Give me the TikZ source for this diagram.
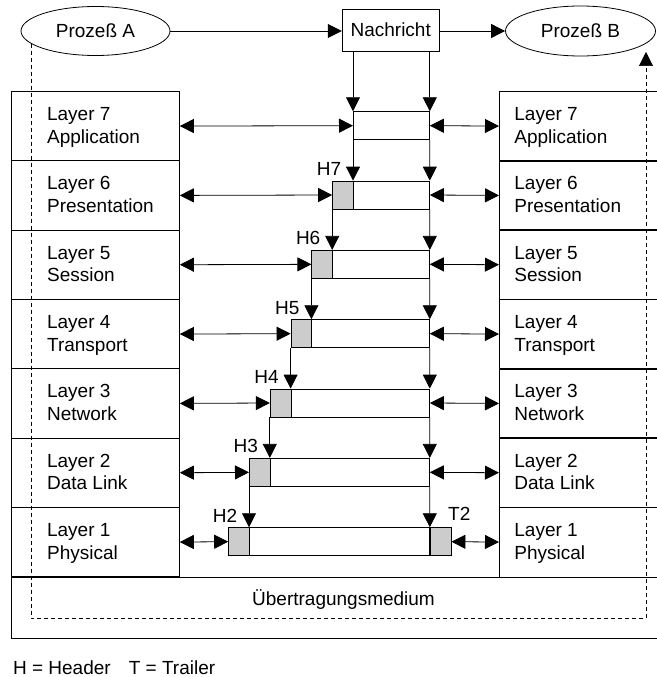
\documentclass[tikz,border=0pt]{standalone}
\usepackage{fontspec}
\setmainfont{Liberation Sans}
\usetikzlibrary{arrows.meta,shapes.geometric}
\begin{document}
\begin{tikzpicture}[x=1pt,y=-1pt,line width=0.8pt,
  >={Triangle[length=14pt,width=14pt]},
  every node/.style={font=\fontsize{19}{22.6}\selectfont},
  proc/.style={draw,ellipse,inner sep=0pt},
  rowbox/.style={anchor=north west,inner sep=0pt,minimum width=168pt,minimum height=69.333pt},
  pkt/.style={draw,anchor=west,inner sep=0pt,minimum height=28pt},
  hdr/.style={draw,fill=gray!40,anchor=west,inner sep=0pt,minimum width=20.8pt,minimum height=28pt},
  txt/.style={anchor=base west,inner sep=0pt},
  dashline/.style={line width=0.6pt,dash pattern=on 4pt off 3pt}]
\useasboundingbox (0,0) rectangle (656,677);

% processes and message
\node[proc,minimum width=149pt,minimum height=49pt] (pa) at (95.5,31) {Prozeß A};
\node[proc,minimum width=150pt,minimum height=50pt] (pb) at (580.5,31) {Prozeß B};
\node[draw,minimum width=97pt,minimum height=42pt,inner sep=0pt] (msg) at (390.7,30) {Nachricht};
\draw[->] (pa.east) -- (pa.east -| msg.west);
\draw[->] (msg.east |- pb.west) -- (pb.west);

% layer stacks
\foreach \k/\n in {7/Application,6/Presentation,5/Session,4/Transport,3/Network,2/Data Link,1/Physical} {
  \pgfmathsetmacro{\t}{91+(7-\k)*69.333}
  \node[rowbox,draw] (L\k) at (11,\t) {};
  \node[rowbox,minimum width=157pt] (R\k) at (499,\t) {};
  \draw (R\k.north east) -- (R\k.north west) -- (R\k.south west) -- (R\k.south east);
  \node[txt] (LT\k) at ([xshift=35.7pt,yshift=-29.5pt]L\k.north west) {Layer \k};
  \node[txt] (LN\k) at ([xshift=35.7pt,yshift=-52.3pt]L\k.north west) {\n};
  \node[txt] (RT\k) at ([xshift=15pt,yshift=-29.5pt]R\k.north west) {Layer \k};
  \node[txt] (RN\k) at ([xshift=15pt,yshift=-52.3pt]R\k.north west) {\n};
}
\node[anchor=north west,inner sep=0pt,minimum width=645pt,minimum height=61pt] (med) at (11,577) {};
\draw (med.north east) -- (med.north west) -- (med.south west) -- (med.south east);
\node[txt,anchor=base] (medt) at (343.5,605.7) {Übertragungsmedium};

% packets
\foreach \k in {7,...,1} {
  \pgfmathsetmacro{\a}{353-(7-\k)*20.8}
  \pgfmathsetmacro{\w}{429-\a}
  \pgfmathsetmacro{\c}{91+(7-\k)*69.333+34.667}
  \node[pkt,minimum width=\w pt] (P\k) at (\a,\c) {};
}
\foreach \k in {6,...,1} {
  \node[hdr] (H\k) at (P\k.west) {};
}
\node[hdr] (T2) at (P1.east) {};

% vertical arrows
\draw[->] (P7.west |- msg.south) -- (P7.north west);
\draw[->] (P7.east |- msg.south) -- (P7.north east);
\foreach \k in {6,...,1} {
  \pgfmathtruncatemacro{\kp}{\k+1}
  \draw[->] (P\kp.south west) -- (P\kp.south west |- P\k.north);
  \draw[->] (P\kp.south east) -- (P\k.north east);
  \node[txt,anchor=base east] (HL\k) at ([xshift=-11.5pt,yshift=5pt]P\kp.south west |- P\k.north) {H\kp};
}
\node[txt] (TL2) at ([xshift=18pt,yshift=6.5pt]P1.north east) {T2};

% horizontal peer arrows
\foreach \k in {7,...,1} {
  \draw[<->] (L\k.east) -- (P\k.west);
}
\foreach \k in {7,...,2} {
  \draw[<->] (P\k.east) -- (R\k.west);
}
\draw[<->] (T2.east) -- (R1.west);

% dashed path
\coordinate (dl) at (32,618);
\coordinate (dr) at (646,618);
\coordinate (dt) at (646,52);
\draw[dashline,->] (pa.191) -- (pa.191 |- dl) -- (dr) -- (dt);

% legend
\node[txt] (leg) at (12.7,674.3) {H = Header\hspace{18pt}T = Trailer};
\end{tikzpicture}
\end{document}
